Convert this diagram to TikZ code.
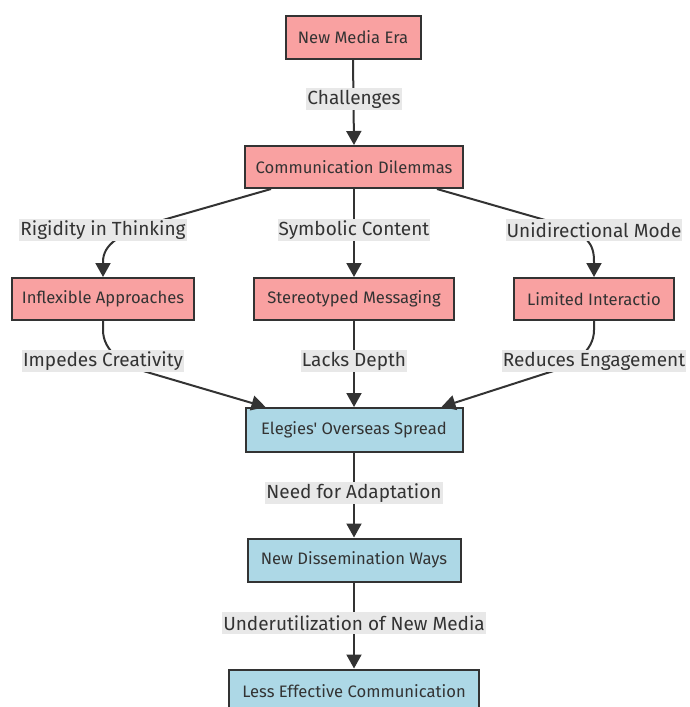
\documentclass[tikz,border=0pt]{standalone}
\usepackage{fontspec}
\newfontfamily\firafont{Fira Sans}
\usetikzlibrary{arrows.meta}
\definecolor{dilemma}{HTML}{F9A1A1}
\definecolor{spread}{HTML}{ADD8E6}
\definecolor{ink}{HTML}{333333}
\definecolor{tagbg}{HTML}{E8E8E8}
\tikzset{
  redbox/.style={draw=ink, line width=2pt, fill=dilemma, text=ink, minimum height=42pt, inner sep=0pt, font=\firafont\fontsize{16.6}{19}\selectfont},
  bluebox/.style={redbox, fill=spread},
  tag/.style={fill=tagbg, text=ink, inner xsep=1pt, inner ysep=0pt, minimum height=22pt, font=\firafont\fontsize{19}{21}\selectfont},
  link/.style={draw=ink, line width=2pt, -{Triangle[length=14pt,width=15pt]}},
}

\begin{document}
\begin{tikzpicture}[x=1pt, y=-1pt]
\useasboundingbox (0,0) rectangle (689,707);
% boxes
\node[redbox, minimum width=135pt, minimum height=43pt] (era) at (353,37) {New Media Era};
\node[redbox, minimum width=218pt] (cd) at (354,167) {Communication Dilemmas};
\node[redbox, minimum width=182pt] (inf) at (103,299) {Inflexible Approaches};
\node[redbox, minimum width=200pt] (st) at (354,299) {Stereotyped Messaging};
\node[redbox, minimum width=160pt] (lim) at (594,299) {Limited Interactio};
\node[bluebox, minimum width=217pt, minimum height=44pt] (el) at (354,430) {Elegies' Overseas Spread};
\node[bluebox, minimum width=213pt, minimum height=43pt] (nd) at (354,560) {New Dissemination Ways};
\node[bluebox, minimum width=250pt, minimum height=43pt] (le) at (354,691) {Less Effective Communication};
% connectors
\draw[link] (era.south) -- (cd.north);
\draw[link] ([xshift=27pt]cd.south west) -- (163,220) .. controls (118,233) and (103,245) .. (103,262) -- (inf.north);
\draw[link] (cd.south) -- (st.north);
\draw[link] ([xshift=-27pt]cd.south east) -- (545,220) .. controls (590,233) and (594,245) .. (594,262) -- (lim.north);
\draw[link] (inf.south) -- (103,330) .. controls (103,352) and (125,366) .. (150,373) -- ([xshift=21pt]el.north west);
\draw[link] (st.south) -- (el.north);
\draw[link] (lim.south) -- (594,330) .. controls (594,352) and (572,366) .. (547,373) -- ([xshift=-22pt]el.north east);
\draw[link] (el.south) -- (nd.north);
\draw[link] (nd.south) -- (le.north);
% edge labels
\node[tag] (tchal) at (354,99) {Challenges};
\node[tag] (trig) at (103,230) {Rigidity in Thinking};
\node[tag] (tsym) at (354,230) {Symbolic Content};
\node[tag] (tuni) at (594,230) {Unidirectional Mode};
\node[tag] (timp) at (103,361) {Impedes Creativity};
\node[tag] (tdep) at (354,361) {Lacks Depth};
\node[tag] (tred) at (594,361) {Reduces Engagement};
\node[tag] (tneed) at (354,493) {Need for Adaptation};
\node[tag] (tund) at (354,623) {Underutilization of New Media};
\end{tikzpicture}
\end{document}
